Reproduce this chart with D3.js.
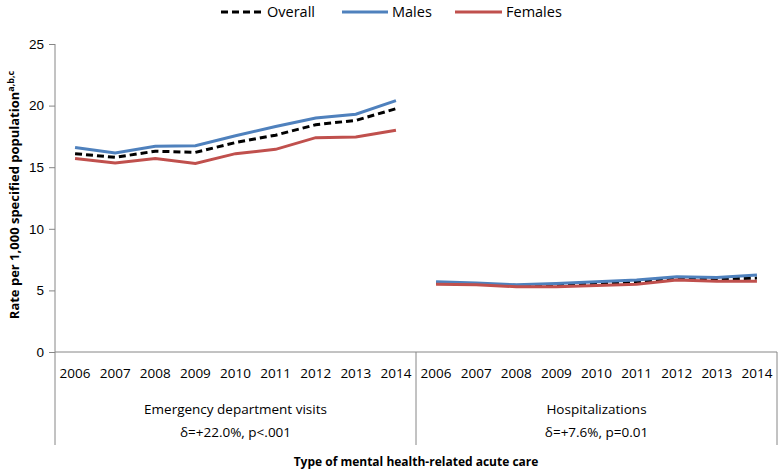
<!DOCTYPE html>
<html>
<head>
<meta charset="utf-8">
<script src="https://cdn.jsdelivr.net/npm/d3@7"></script>
<style>
  body { margin: 0; background: #fff; }
  svg { display: block; font-family: "Open Sans", sans-serif; }
  .tick text { font-size: 13.5px; fill: #000; }
</style>
</head>
<body>
<div class="chart"></div>
<script>
// chart values
var years = ["2006", "2007", "2008", "2009", "2010", "2011", "2012", "2013", "2014"];
var careTypes = ["Emergency department visits", "Hospitalizations"];
var careNotes = ["δ=+22.0%, p<.001", "δ=+7.6%, p=0.01"];
var yTicks = [0, 5, 10, 15, 20, 25];

var overallED = [16.1, 15.8, 16.3, 16.2, 17.0, 17.6, 18.45, 18.8, 19.75];
var malesED = [16.6, 16.15, 16.7, 16.75, 17.55, 18.3, 19.0, 19.3, 20.4];
var femalesED = [15.7, 15.35, 15.7, 15.3, 16.1, 16.45, 17.4, 17.45, 18.0];

var overallHosp = [5.6, 5.5, 5.4, 5.4, 5.55, 5.7, 5.95, 5.9, 6.0];
var malesHosp = [5.7, 5.6, 5.45, 5.55, 5.7, 5.85, 6.1, 6.05, 6.25];
var femalesHosp = [5.5, 5.45, 5.3, 5.3, 5.4, 5.5, 5.85, 5.75, 5.75];

var seriesNames = ["Overall", "Males", "Females"];
var seriesColors = ["#000000", "#4F81BD", "#C0504D"];
var seriesDash = ["7,4", null, null];
var seriesValues = [
    [overallED, overallHosp],
    [malesED, malesHosp],
    [femalesED, femalesHosp]
];

var svgWidth = 780, svgHeight = 471;
var margin = { top: 44, left: 55, right: 3, bottom: 119 };
var width = svgWidth - margin.left - margin.right;
var height = svgHeight - margin.top - margin.bottom;

var svg = d3.select(".chart").append("svg")
    .attr("width", svgWidth)
    .attr("height", svgHeight);

var chartGroup = svg.append("g")
    .attr("transform", `translate(${margin.left}, ${margin.top})`);

// one slot per (care type, year)
var slots = [];
careTypes.forEach(function (c, ci) {
    years.forEach(function (y) { slots.push(ci + "-" + y); });
});

var xScale = d3.scaleBand().domain(slots).range([0, width]).padding(0);
var yScale = d3.scaleLinear().domain([0, 25]).range([height, 0]);
var xCenter = (ci, yr) => xScale(ci + "-" + yr) + xScale.bandwidth() / 2;

// y axis
var yAxis = chartGroup.append("g")
    .call(d3.axisLeft(yScale).tickValues(yTicks).tickSize(6).tickPadding(5));
yAxis.select(".domain").remove();
yAxis.selectAll(".tick line").attr("stroke", "#868686");

// x axis: year labels, group labels and dividers
var catAxisBottom = 93;
chartGroup.append("line")
    .attr("x1", 0).attr("x2", width)
    .attr("y1", height).attr("y2", height)
    .attr("stroke", "#868686");
chartGroup.append("line")
    .attr("x1", 0).attr("x2", 0)
    .attr("y1", 0).attr("y2", height + catAxisBottom)
    .attr("stroke", "#868686");
[1, 2].forEach(function (i) {
    var x = i === 1 ? xScale("1-" + years[0]) : width;
    chartGroup.append("line")
        .attr("x1", x).attr("x2", x)
        .attr("y1", height).attr("y2", height + catAxisBottom)
        .attr("stroke", "#868686");
});

careTypes.forEach(function (c, ci) {
    chartGroup.append("g").selectAll("text")
        .data(years)
        .enter()
        .append("text")
        .attr("x", d => xCenter(ci, d))
        .attr("y", height + 26)
        .attr("text-anchor", "middle")
        .style("font-size", "13.5px")
        .text(d => d);

    var mid = (xScale(ci + "-" + years[0]) + xScale(ci + "-" + years[8]) + xScale.bandwidth()) / 2;
    chartGroup.append("text")
        .attr("x", mid).attr("y", height + 62)
        .attr("text-anchor", "middle")
        .style("font-size", "13.5px")
        .text(c);
    chartGroup.append("text")
        .attr("x", mid).attr("y", height + 85)
        .attr("text-anchor", "middle")
        .style("font-size", "13.5px")
        .text(careNotes[ci]);
});

// axis titles
chartGroup.append("text")
    .attr("x", width / 2)
    .attr("y", height + 114)
    .attr("text-anchor", "middle")
    .style("font-size", "12px")
    .style("font-weight", "bold")
    .text("Type of mental health-related acute care");

var yTitle = svg.append("text")
    .attr("transform", "translate(19, 195)rotate(-90)")
    .attr("text-anchor", "middle")
    .style("font-size", "13px")
    .style("font-weight", "bold");
yTitle.append("tspan").text("Rate per 1,000 specified population");
yTitle.append("tspan")
    .attr("dy", -5)
    .style("font-size", "9px")
    .text("a,b,c");

// lines
var line = d3.line()
    .x(d => d.x)
    .y(d => yScale(d.v));

seriesNames.forEach(function (name, si) {
    careTypes.forEach(function (c, ci) {
        var pts = seriesValues[si][ci].map((v, i) => ({ x: xCenter(ci, years[i]), v: v }));
        chartGroup.append("path")
            .datum(pts)
            .attr("d", line)
            .attr("fill", "none")
            .attr("stroke", seriesColors[si])
            .attr("stroke-width", 3)
            .attr("stroke-dasharray", seriesDash[si]);
    });
});

// legend
var legendItems = [
    { x1: 221, x2: 263 },
    { x1: 342, x2: 388 },
    { x1: 455, x2: 502 }
];
var legend = svg.append("g");
seriesNames.forEach(function (name, si) {
    var it = legendItems[si];
    legend.append("line")
        .attr("x1", it.x1).attr("x2", it.x2)
        .attr("y1", 12).attr("y2", 12)
        .attr("stroke", seriesColors[si])
        .attr("stroke-width", 3)
        .attr("stroke-dasharray", seriesDash[si]);
    legend.append("text")
        .attr("x", it.x2 + 4)
        .attr("y", 17)
        .style("font-size", "14.5px")
        .text(name);
});
</script>
</body>
</html>
